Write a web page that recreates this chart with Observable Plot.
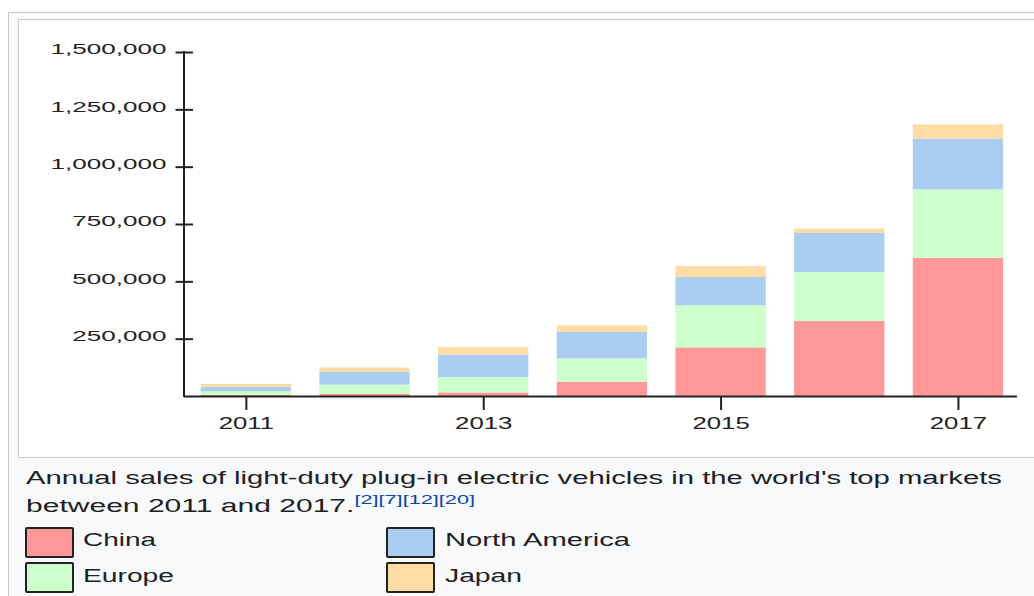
<!DOCTYPE html>
<html>
<head>
<meta charset="utf-8">
<script src="https://cdn.jsdelivr.net/npm/d3@7"></script>
<script src="https://cdn.jsdelivr.net/npm/@observablehq/plot@0.6"></script>
<style>
  html, body { margin: 0; padding: 0; width: 1034px; height: 596px; overflow: hidden; background: #fff; }
  body { position: relative; font-family: "Liberation Sans", Arial, sans-serif; color: #202122; }
  #outer { position: absolute; left: 8px; top: 12px; right: -20px; bottom: -20px; background: #f8f9fa; border: 1px solid #c8ccd1; }
  #inner { position: absolute; left: 18px; top: 19px; right: -20px; height: 439px; background: #fff; border: 1px solid #c8ccd1; box-sizing: border-box; }
  #chart { position: absolute; left: 0; top: 0; }
  .txt { position: absolute; white-space: nowrap; line-height: 18px; font-size: 18px; transform-origin: 0 0; }
  .sup { font-size: 13px; position: relative; top: -8px; color: #0645ad; }
  .sw { position: absolute; width: 45px; height: 27px; border: 2px solid #222; border-radius: 2px; }
</style>
</head>
<body>
<div id="outer"></div>
<div id="inner"></div>
<div id="chart"></div>
<div id="caption"></div>
<div id="legend"></div>
<script>
// ---- data ----
const years = [2011, 2012, 2013, 2014, 2015, 2016, 2017];
const china        = [5000, 9000, 15700, 62000, 212000, 328000, 603000];
const europe       = [15000, 40500, 67000, 102000, 184000, 212000, 298000];
const northAmerica = [20000, 55000, 98500, 116000, 123000, 171000, 222000];
const japan        = [13000, 20000, 32000, 28000, 48000, 19000, 61000];
const seriesNames  = ["China", "Europe", "North America", "Japan"];
const seriesColors = ["#ff9999", "#ccffcc", "#abcdef", "#ffdba6"];
const yTickValues  = [250000, 500000, 750000, 1000000, 1250000, 1500000];
const xTickValues  = [2011, 2013, 2015, 2017];
const captionLine1 = "Annual sales of light-duty plug-in electric vehicles in the world's top markets";
const captionLine2 = "between 2011 and 2017.";
const citations    = "[2][7][12][20]";

const seriesValues = [china, europe, northAmerica, japan];
const rows = years.flatMap((year, i) =>
  seriesValues.map((vals, k) => ({year, series: seriesNames[k], value: vals[i]})));

const W = 1034, H = 458;
const ink = "#222";

const yAxisLine = (index, scales, values, dims) => {
  const top = dims.marginTop - 1, bottom = dims.height - dims.marginBottom + 1;
  const l = document.createElementNS("http://www.w3.org/2000/svg", "line");
  l.setAttribute("x1", dims.marginLeft); l.setAttribute("x2", dims.marginLeft);
  l.setAttribute("y1", top); l.setAttribute("y2", bottom);
  l.setAttribute("stroke", ink); l.setAttribute("stroke-width", 2);
  return l;
};

const marginLeft = 184, marginRight = 17;
const frameW = W - marginLeft - marginRight;

const chart = Plot.plot({
  width: W, height: H,
  marginLeft, marginRight, marginTop: 52, marginBottom: 62,
  style: {background: "transparent", fontFamily: "'Liberation Sans', Arial, sans-serif", color: ink, overflow: "visible"},
  x: {type: "band", domain: years, range: [185.4, 1018.4], paddingInner: 0.239, paddingOuter: 0.129, round: false, label: null},
  y: {domain: [0, 1500000], label: null},
  color: {domain: seriesNames, range: seriesColors},
  marks: [
    Plot.barY(rows, {x: "year", y: "value", fill: "series", z: "series"}),
    Plot.ruleY([0], {stroke: ink, strokeWidth: 2}),
    yAxisLine,
    Plot.tickY(yTickValues, {y: d => d, stroke: ink, strokeWidth: 2, insetLeft: -8.5, insetRight: frameW - 9}),
    Plot.axisY(yTickValues, {tickSize: 0, tickPadding: 18, tickFormat: d3.format(","), fontSize: 15, dy: -3, fill: ink}),
    Plot.axisX(xTickValues, {tickSize: 14, tickPadding: 7, tickFormat: d => String(d), fontSize: 16, stroke: ink, strokeWidth: 2, fill: ink})
  ]
});
document.getElementById("chart").appendChild(chart);

// horizontal stretch of svg tick labels (reference is rendered wider than the font)
function stretchSvg(texts, factor) {
  texts.forEach(el => {
    let t = el.getAttribute("transform") || "";
    const x = el.getAttribute("x");
    if (x !== null && !isNaN(+x)) { t += ` translate(${x},0)`; el.removeAttribute("x"); }
    el.setAttribute("transform", `${t} scale(${factor},1)`);
  });
}
const yTexts = Array.from(chart.querySelectorAll('g[aria-label="y-axis tick label"] text'));
const xTexts = Array.from(chart.querySelectorAll('g[aria-label="x-axis tick label"] text'));
if (yTexts.length) {
  const wLong = yTexts[yTexts.length - 1].getBBox().width; // 1,500,000
  const wShort = yTexts[1].getBBox().width; // 500,000
  stretchSvg(yTexts, (115 / wLong + 95 / wShort) / 2);
}
if (xTexts.length) {
  const w = d3.mean(xTexts, el => el.getBBox().width);
  stretchSvg(xTexts, 57 / w);
}

// caption and legend (HTML)
function place(parent, html, left, top, targetWidth, cls = "txt") {
  const d = document.createElement("div");
  d.className = cls;
  d.innerHTML = html;
  d.style.left = left + "px"; d.style.top = top + "px";
  parent.appendChild(d);
  const w = d.getBoundingClientRect().width;
  d.style.transform = `scaleX(${targetWidth / w})`;
  return d;
}
const cap = document.getElementById("caption");
place(cap, captionLine1, 26, 468.5, 976);
place(cap, `${captionLine2}<span class="sup">${citations}</span>`, 26, 496.5, 449);

const legend = document.getElementById("legend");
const legendPos = [
  {sx: 25, tx: 83, sy: 527, ty: 531, w: 73},
  {sx: 25, tx: 83, sy: 562, ty: 566.5, w: 91},
  {sx: 386, tx: 445, sy: 527, ty: 531, w: 185},
  {sx: 386, tx: 445, sy: 562, ty: 566.5, w: 77}
];
seriesNames.forEach((name, i) => {
  const p = legendPos[i];
  const sw = document.createElement("div");
  sw.className = "sw";
  sw.style.left = p.sx + "px"; sw.style.top = p.sy + "px";
  sw.style.background = seriesColors[i];
  legend.appendChild(sw);
  place(legend, name, p.tx, p.ty, p.w);
});
</script>
</body>
</html>
